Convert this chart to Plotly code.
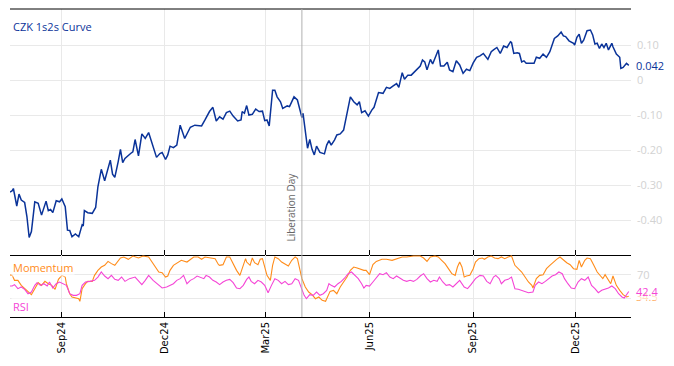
import pandas as pd
import plotly.graph_objects as go

# ---------------- data ----------------
start_date = "2024-07-17"   # day 0 of the series
x_end_date = "2026-01-19"

curve_days = [
    0, 2, 3, 6, 8, 10, 13, 15, 17, 19,
    22, 25, 28, 32, 34, 36, 38, 41, 44, 46,
    49, 51, 53, 55, 58, 61, 64, 65, 66, 69,
    73, 76, 78, 81, 84, 86, 89, 91, 93, 96,
    98, 100, 102, 107, 109, 111, 114, 117, 120, 123,
    126, 130, 133, 135, 138, 140, 142, 145, 148, 151,
    155, 160, 164, 170, 173, 177, 180, 183, 186, 189,
    192, 195, 198, 202, 205, 206, 208, 210, 212, 215,
    218, 221, 224, 226, 228, 230, 233, 235, 237, 240,
    242, 246, 248, 252, 255, 257, 259, 260, 262, 264,
    266, 268, 270, 272, 275, 279, 281, 283, 285, 288,
    290, 293, 296, 299, 302, 305, 308, 310, 312, 315,
    318, 321, 323, 327, 331, 334, 337, 340, 343, 345,
    348, 350, 353, 356, 359, 364, 366, 368, 370, 373,
    375, 378, 380, 382, 385, 388, 390, 393, 396, 399,
    402, 405, 408, 411, 414, 417, 420, 424, 427, 429,
    432, 435, 438, 441, 444, 445, 447, 450, 452, 454,
    456, 458, 461, 465, 467, 470, 473, 476, 479, 481,
    483, 486, 489, 491, 493, 496, 500, 501, 503, 505,
    507, 509, 512, 515, 517, 519, 521, 523, 525, 527,
    529, 531, 534, 535, 538, 541, 542, 544, 547, 549,
]
curve_vals = [
    -0.32, -0.316, -0.31, -0.36, -0.326, -0.343, -0.35, -0.39, -0.45, -0.433,
    -0.348, -0.352, -0.386, -0.346, -0.373, -0.37, -0.379, -0.345, -0.348, -0.34,
    -0.362, -0.429, -0.43, -0.448, -0.44, -0.448, -0.414, -0.417, -0.373, -0.379,
    -0.381, -0.364, -0.305, -0.255, -0.288, -0.267, -0.229, -0.269, -0.278, -0.233,
    -0.198, -0.236, -0.224, -0.21, -0.205, -0.17, -0.217, -0.154, -0.167, -0.15,
    -0.181, -0.221, -0.21, -0.207, -0.227, -0.214, -0.189, -0.193, -0.186, -0.129,
    -0.167, -0.135, -0.129, -0.131, -0.114, -0.09, -0.078, -0.117, -0.105, -0.112,
    -0.093, -0.089, -0.103, -0.117, -0.114, -0.09, -0.095, -0.073, -0.1, -0.098,
    -0.083, -0.09, -0.089, -0.116, -0.114, -0.131, -0.029, -0.029, -0.048, -0.062,
    -0.081, -0.074, -0.076, -0.048, -0.057, -0.086, -0.107, -0.095, -0.143, -0.195,
    -0.17, -0.198, -0.214, -0.189, -0.207, -0.211, -0.186, -0.173, -0.186, -0.171,
    -0.157, -0.154, -0.143, -0.09, -0.048, -0.062, -0.071, -0.062, -0.093, -0.088,
    -0.103, -0.086, -0.078, -0.036, -0.038, -0.021, -0.024, -0.017, -0.01, -0.021,
    0.021, 0.002, 0.014, 0.014, 0.024, 0.04, 0.057, 0.052, 0.029, 0.059,
    0.046, 0.067, 0.086, 0.04, 0.04, 0.051, 0.029, 0.024, 0.055, 0.043,
    0.019, 0.031, 0.027, 0.049, 0.065, 0.069, 0.076, 0.059, 0.081, 0.086,
    0.093, 0.076, 0.097, 0.093, 0.109, 0.107, 0.076, 0.078, 0.076, 0.052,
    0.055, 0.048, 0.048, 0.048, 0.065, 0.062, 0.074, 0.065, 0.081, 0.1,
    0.119, 0.126, 0.137, 0.126, 0.124, 0.112, 0.105, 0.1, 0.122, 0.131,
    0.105, 0.114, 0.141, 0.143, 0.129, 0.103, 0.105, 0.09, 0.103, 0.093,
    0.105, 0.086, 0.105, 0.095, 0.074, 0.065, 0.033, 0.036, 0.048, 0.042,
]

mom_days = [
    0, 2, 4, 7, 10, 13, 16, 19, 22, 25,
    28, 31, 34, 37, 40, 43, 46, 49, 50, 53,
    55, 58, 61, 62, 64, 67, 69, 73, 75, 78,
    81, 84, 87, 90, 93, 98, 101, 105, 109, 114,
    118, 123, 126, 129, 132, 135, 138, 140, 142, 145,
    149, 152, 157, 160, 163, 167, 170, 173, 177, 182,
    185, 186, 189, 192, 195, 198, 201, 204, 207, 209,
    210, 213, 215, 217, 220, 222, 224, 226, 228, 231,
    233, 235, 238, 241, 244, 247, 250, 253, 255, 257,
    259, 262, 265, 268, 271, 274, 277, 280, 282, 284,
    287, 290, 293, 296, 299, 302, 305, 308, 311, 314,
    316, 319, 322, 325, 330, 334, 339, 343, 348, 352,
    358, 364, 367, 370, 373, 377, 380, 383, 386, 389,
    392, 395, 397, 399, 401, 403, 405, 408, 411, 413,
    416, 419, 421, 424, 427, 430, 433, 436, 439, 442,
    445, 448, 451, 454, 457, 460, 463, 464, 467, 470,
    473, 476, 479, 482, 485, 488, 491, 494, 497, 500,
    503, 505, 507, 510, 512, 515, 518, 521, 524, 526,
    528, 531, 533, 535, 538, 541, 544, 547, 549,
]
mom_vals = [
    70, 69.4, 61.1, 61.1, 52.7, 47.2, 42.7, 37.2, 47.2, 57.2,
    52.7, 59.4, 55.5, 52.7, 46.1, 62.7, 69.4, 66.6, 55.5, 38.8,
    33.3, 31.6, 30.5, 26.1, 47.2, 55.5, 59.4, 59.4, 69.4, 77.7,
    83.3, 86.1, 92.7, 88.9, 86.1, 98.3, 100, 96.1, 101.6, 98.3,
    101.6, 100, 91.6, 83.3, 75, 73.9, 66.6, 68.3, 77.7, 86.1,
    91.6, 94.4, 91.6, 96.1, 100, 100, 96.1, 100, 98.3, 97.2,
    87.2, 86.1, 87.2, 100, 100, 88.9, 77.7, 69.4, 86.1, 97.2,
    91.6, 86.1, 98.3, 90.5, 87.2, 96.1, 97.2, 83.3, 69.4, 61.1,
    86.1, 100, 97.2, 91.6, 88.9, 85, 94.4, 100, 97.2, 80.5,
    63.9, 50, 41.6, 37.2, 30.5, 33.3, 27.7, 26.1, 36.1, 42.7,
    44.4, 38.8, 50, 58.3, 66.6, 77.7, 83.3, 81.6, 79.4, 77.7,
    77.7, 70.5, 87.2, 92.7, 96.1, 96.1, 94.4, 97.2, 100, 100,
    101.6, 101.6, 98.3, 92.7, 100, 101.6, 100, 94.4, 88.9, 80.5,
    72.2, 69.4, 83.3, 91.6, 83.3, 66.6, 68.3, 69.4, 80.5, 91.6,
    97.2, 98.3, 96.1, 100, 101.6, 98.3, 97.2, 100, 97.2, 100,
    101.6, 86.1, 80.5, 75, 66.6, 58.3, 52.7, 48.3, 63.9, 69.4,
    70.5, 80.5, 86.1, 91.6, 96.1, 100, 94.4, 90.5, 87.2, 80.5,
    79.4, 94.4, 83.3, 94.4, 98.3, 97.2, 86.1, 75, 68.3, 63.9,
    70.5, 61.1, 55.5, 68.3, 52.7, 44.4, 37.2, 33.3, 34.5,
]

rsi_days = [
    0, 2, 4, 7, 10, 13, 16, 19, 22, 24,
    27, 30, 33, 35, 38, 41, 44, 47, 50, 53,
    56, 59, 62, 64, 67, 71, 75, 78, 81, 84,
    87, 90, 93, 96, 99, 102, 106, 111, 114, 117,
    120, 123, 127, 132, 135, 139, 142, 145, 148, 151,
    154, 157, 160, 163, 166, 169, 172, 174, 177, 180,
    183, 186, 189, 192, 195, 198, 201, 204, 207, 210,
    212, 214, 217, 220, 223, 226, 229, 232, 235, 238,
    241, 244, 247, 250, 253, 256, 259, 261, 263, 266,
    269, 272, 275, 278, 281, 283, 285, 288, 291, 294,
    297, 300, 303, 306, 309, 312, 314, 316, 319, 322,
    325, 328, 331, 334, 337, 340, 343, 346, 349, 352,
    355, 358, 361, 364, 367, 370, 373, 376, 379, 381,
    384, 387, 390, 393, 396, 399, 403, 406, 409, 413,
    417, 420, 423, 426, 429, 431, 434, 436, 439, 442,
    445, 448, 451, 454, 457, 460, 464, 466, 469, 472,
    475, 478, 481, 484, 487, 490, 492, 495, 498, 501,
    504, 507, 510, 513, 516, 519, 522, 525, 528, 531,
    534, 537, 540, 543, 545, 547, 549,
]
rsi_vals = [
    51.6, 51.6, 53.9, 47.2, 50, 46.1, 38.8, 41.6, 52.7, 57.2,
    52.7, 55.5, 51.6, 58.3, 48.3, 55.5, 58.3, 55.5, 52.7, 38.8,
    36.1, 36.1, 38.8, 52.7, 58.3, 59.4, 61.1, 66.6, 75, 68.3,
    63.9, 69.4, 62.7, 61.1, 66.6, 59.4, 63.9, 66.6, 59.4, 53.9,
    61.1, 69.4, 61.1, 52.7, 48.3, 50, 52.7, 55.5, 61.1, 63.9,
    69.4, 55.5, 61.1, 63.9, 68.3, 66.6, 63.9, 69.4, 66.6, 61.1,
    58.3, 53.9, 58.3, 61.1, 62.7, 57.2, 48.3, 47.2, 52.7, 62.7,
    66.6, 59.4, 55.5, 61.1, 58.3, 52.7, 40.5, 52.7, 63.9, 61.1,
    55.5, 59.4, 53.9, 55.5, 63.9, 61.1, 47.2, 36.1, 30.5, 37.2,
    36.1, 41.6, 36.1, 38.8, 44.4, 55.5, 52.7, 50, 55.5, 59.4,
    65, 72.2, 75, 69.4, 63.9, 55.5, 48.3, 52.7, 51.6, 58.3,
    65, 72.2, 70.5, 73.9, 66.6, 63.9, 68.3, 65, 61.1, 59.4,
    61.1, 59.4, 62.7, 68.3, 72.2, 63.9, 58.3, 61.1, 59.4, 66.6,
    58.3, 52.7, 53.9, 50, 55.5, 61.1, 50, 47.2, 53.9, 63.9,
    69.4, 68.3, 59.4, 55.5, 66.6, 69.4, 63.9, 55.5, 61.1, 62.7,
    66.6, 47.2, 46.1, 44.4, 41.6, 40.5, 41.6, 52.7, 58.3, 55.5,
    59.4, 63.9, 68.3, 70.5, 75, 72.2, 63.9, 55.5, 48.3, 47.2,
    58.3, 63.9, 61.1, 66.6, 52.7, 47.2, 40.5, 44.4, 46.1, 48.3,
    51.6, 47.2, 38.8, 33.3, 31.6, 36.1, 42.4,
]

curve_tick_vals = [-0.4, -0.3, -0.2, -0.1, 0, 0.1]
curve_tick_text = ["-0.40", "-0.30", "-0.20", "-0.10", "0", "0.10"]
osc_tick_vals = [30, 70]
osc_tick_text = ["", "70"]   # the 30 label is hidden behind the end-value tags
event_date = "2025-04-02"
event_label = "Liberation Day"
curve_name = "CZK 1s2s Curve"
mom_name = "Momentum"
rsi_name = "RSI"
curve_last_text = "0.042"
mom_last_text = "34.5"
rsi_last_text = "42.4"

# ---------------- styling ----------------
BLUE = "#0a3399"
ORANGE = "#ff8c1a"
MAGENTA = "#f545d6"
GRID = "#e9e9e9"
TICKGREY = "#d2d2d2"
FONT = "Open Sans"
SPLIT = 62 / 308  # lower panel share of plot height

base = pd.Timestamp(start_date)


def to_dates(days):
    return base + pd.to_timedelta(days, unit="D")


fig = go.Figure()
fig.add_trace(go.Scatter(x=to_dates(curve_days), y=curve_vals, mode="lines",
                         line=dict(color=BLUE, width=1.5), xaxis="x", yaxis="y",
                         hoverinfo="skip"))
fig.add_trace(go.Scatter(x=to_dates(mom_days), y=mom_vals, mode="lines",
                         line=dict(color=ORANGE, width=1.1), xaxis="x2", yaxis="y2",
                         hoverinfo="skip"))
fig.add_trace(go.Scatter(x=to_dates(rsi_days), y=rsi_vals, mode="lines",
                         line=dict(color=MAGENTA, width=1.1), xaxis="x2", yaxis="y2",
                         hoverinfo="skip"))

x_common = dict(range=[start_date, x_end_date], type="date",
                tick0="2024-09-01", dtick="M3",
                ticks="inside", ticklen=5, tickcolor="black", tickwidth=1,
                showline=True, linecolor="black", linewidth=1,
                showgrid=True, gridcolor=GRID, gridwidth=1, zeroline=False)

fig.update_layout(
    width=674, height=366,
    autosize=False,
    margin=dict(l=10, r=43, t=9, b=49, autoexpand=False),
    paper_bgcolor="white", plot_bgcolor="white",
    showlegend=False,
    font=dict(family=FONT, size=11),
    xaxis=dict(**x_common, anchor="y", domain=[0, 1], showticklabels=False),
    xaxis2=dict(**x_common, anchor="y2", domain=[0, 1], matches="x",
                tickformat="%b%y", tickangle=-90,
                tickfont=dict(family="DejaVu Sans", size=10, color="black")),
    yaxis=dict(domain=[SPLIT, 1], range=[-0.5, 0.203], anchor="x", side="right",
               tickvals=curve_tick_vals, ticktext=curve_tick_text,
               tickfont=dict(family=FONT, size=11, color=TICKGREY),
               ticks="", ticklabelstandoff=5,
               showgrid=True, gridcolor=GRID, zeroline=False, showline=False),
    yaxis2=dict(domain=[0, SPLIT], range=[0, 103.3], anchor="x2", side="right",
                tickvals=osc_tick_vals, ticktext=osc_tick_text,
                tickfont=dict(family=FONT, size=11, color=TICKGREY),
                ticks="", ticklabelstandoff=5,
                showgrid=True, gridcolor=GRID, zeroline=False, showline=False),
)

fig.add_shape(type="line", xref="paper", yref="paper", x0=0, x1=1, y0=1, y1=1,
              line=dict(color="black", width=1))
fig.add_shape(type="line", xref="x", yref="paper", x0=event_date, x1=event_date,
              y0=0, y1=1, line=dict(color="#b0b0b0", width=1))

fig.add_annotation(text=event_label, xref="x", yref="y", x=event_date, y=-0.466,
                   xanchor="right", yanchor="bottom", textangle=-90, showarrow=False,
                   xshift=-2, font=dict(family=FONT, size=10, color="#666666"))
fig.add_annotation(text=curve_name, xref="paper", yref="paper", x=0, y=1,
                   xanchor="left", yanchor="top", xshift=1, yshift=-8,
                   showarrow=False, font=dict(family=FONT, size=11, color=BLUE))
fig.add_annotation(text=curve_last_text, xref="paper", yref="y", x=1,
                   y=curve_vals[-1], xanchor="left", yanchor="middle", xshift=3,
                   showarrow=False, font=dict(family=FONT, size=11, color=BLUE))
fig.add_annotation(text=mom_name, xref="paper", yref="y2", x=0, y=81.7,
                   xanchor="left", yanchor="middle", xshift=1, showarrow=False,
                   bgcolor="rgba(255,255,255,0.6)",
                   font=dict(family=FONT, size=11, color=ORANGE))
fig.add_annotation(text=rsi_name, xref="paper", yref="y2", x=0, y=18.3,
                   xanchor="left", yanchor="middle", xshift=1, showarrow=False,
                   bgcolor="rgba(255,255,255,0.6)",
                   font=dict(family=FONT, size=11, color=MAGENTA))
fig.add_annotation(text=mom_last_text, xref="paper", yref="y2", x=1,
                   y=mom_vals[-1], xanchor="left", yanchor="middle", xshift=3,
                   showarrow=False, bgcolor="white",
                   font=dict(family=FONT, size=11, color=ORANGE))
fig.add_annotation(text=rsi_last_text, xref="paper", yref="y2", x=1,
                   y=rsi_vals[-1], xanchor="left", yanchor="middle", xshift=3,
                   showarrow=False, bgcolor="rgba(255,255,255,0.72)",
                   font=dict(family=FONT, size=11, color=MAGENTA))

fig.write_html("out.html",
               config={"displayModeBar": False},
               post_script="document.body.style.margin='0';"
                           "document.body.style.padding='0';")
